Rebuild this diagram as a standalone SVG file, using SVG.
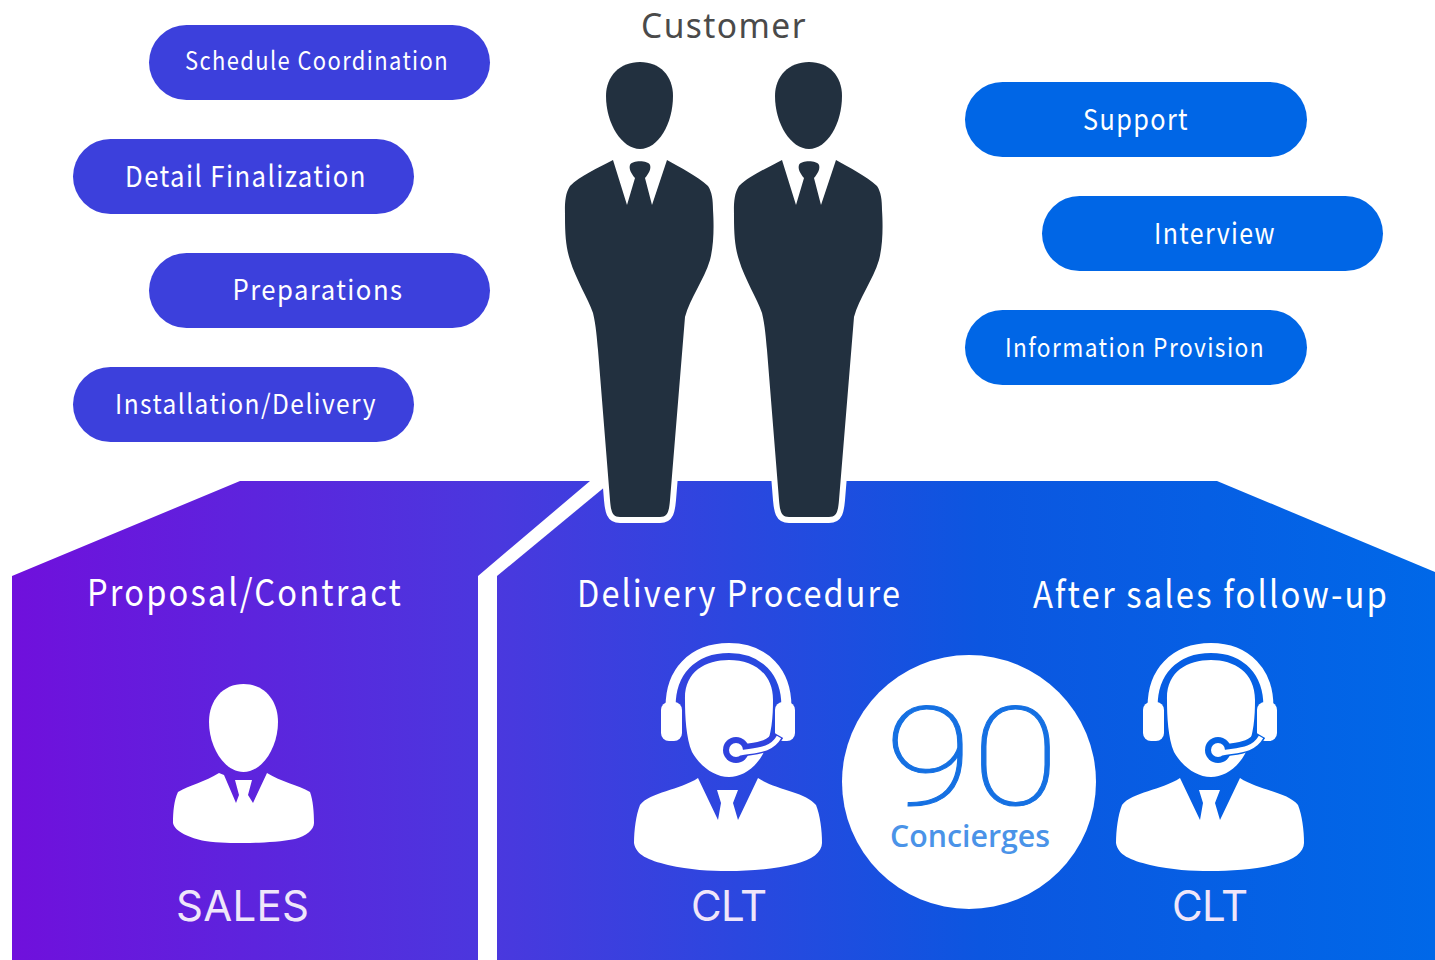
<svg xmlns="http://www.w3.org/2000/svg" xmlns:xlink="http://www.w3.org/1999/xlink" width="1435" height="960" viewBox="0 0 1435 960">
<style>
.lbl{font-family:"Noto Sans CJK JP","Noto Sans",sans-serif;text-anchor:middle;font-weight:400}
.pt{fill:#fff;letter-spacing:1.6px}
.hd{fill:#fff;font-size:37px;letter-spacing:2.4px}
.role{font-family:Inter,"Open Sans",sans-serif;font-size:42px;fill:#efe6fa;text-anchor:middle}
.pa{fill:#3c40dc}
.pb{fill:#0066e6}
.dark{fill:#22303f}
.w{fill:#fff}
</style>
<defs>
<linearGradient id="band" gradientUnits="userSpaceOnUse" x1="12" y1="0" x2="1435" y2="0">
<stop offset="0" stop-color="#7010dc"/><stop offset="0.34" stop-color="#4a38de"/><stop offset="0.68" stop-color="#0c56e0"/><stop offset="1" stop-color="#0068e8"/>
</linearGradient>
<g id="suit">
<path d="M613 160C598 168 580 176 570 186C564 195 565 208 565 217C565 235 566 248 570 260C576 280 588 298 593 313C596 325 597 340 598 350L610 500C611 511 612 517 620 517H660C668 517 669 511 670 500L685 317C690 298 704 280 710 260C714 245 714 225 713 210C713 200 712 192 708 186C697 176 681 168 667 160L652 205L645 178C650 172 651 168 650 165C648 160 632 160 630 165C629 168 630 172 635 178L627 205Z"/>
<path d="M640 62C660 62 673 76 673 96C673 124 658 149 640 149C622 149 606 124 606 96C606 76 620 62 640 62Z"/>
</g>
<g id="agent">
<path class="w" d="M698 778C680 790 650 792 640 805C636 815 634 830 634 843C636 855 648 860 668 865C690 870 710 871 728 871C750 871 775 869 795 864C812 860 822 852 822 843C822 830 820 815 816 805C806 792 776 790 758 778L738 820L733 803L738 790H717L721 803L718 820Z"/>
<path class="w" d="M685 700C684 672 705 660 729 660C752 660 773 672 773 700C773 716 772 735 764 752C756 768 742 777 729 777C714 777 700 766 692 752C686 738 685 716 685 700Z"/>
<path d="M671 715C667 670 695 648 729 648C762 648 790 670 786 715" fill="none" stroke="#fff" stroke-width="10"/>
<rect class="w" x="661" y="702" width="21" height="39" rx="8"/>
<rect class="w" x="775" y="702" width="20" height="39" rx="8"/>
<path d="M778 735C770 749 755 748 740 751" fill="none" stroke="var(--g)" stroke-width="12"/>
<circle cx="736" cy="750" r="13" fill="var(--g)"/>
<path d="M779 737C771 751 756 750 740 753" fill="none" stroke="#fff" stroke-width="5"/>
<circle class="w" cx="736" cy="750" r="7"/>
</g>
</defs>
<rect width="1435" height="960" fill="#fff"/>
<g id="band-sales"><path d="M12 576L240 481H590L478 576V960H12Z" fill="url(#band)"/></g>
<g id="band-delivery"><path d="M497 576L612 481H1217L1435 572V960H497Z" fill="url(#band)"/></g>
<g id="pill-schedule"><rect class="pa" x="149" y="25" width="341" height="75" rx="37.5"/><text class="lbl pt" x="317" y="70" font-size="25" textLength="264" lengthAdjust="spacingAndGlyphs">Schedule Coordination</text></g>
<g id="pill-detail"><rect class="pa" x="73" y="139" width="341" height="75" rx="37.5"/><text class="lbl pt" x="246" y="187" font-size="29" textLength="242" lengthAdjust="spacingAndGlyphs">Detail Finalization</text></g>
<g id="pill-preparations"><rect class="pa" x="149" y="253" width="341" height="75" rx="37.5"/><text class="lbl pt" x="318" y="300" font-size="28" textLength="171" lengthAdjust="spacingAndGlyphs">Preparations</text></g>
<g id="pill-installation"><rect class="pa" x="73" y="367" width="341" height="75" rx="37.5"/><text class="lbl pt" x="246" y="414" font-size="27" textLength="262" lengthAdjust="spacingAndGlyphs">Installation/Delivery</text></g>
<g id="pill-support"><rect class="pb" x="965" y="82" width="342" height="75" rx="37.5"/><text class="lbl pt" x="1136" y="130" font-size="29" textLength="106" lengthAdjust="spacingAndGlyphs">Support</text></g>
<g id="pill-interview"><rect class="pb" x="1042" y="196" width="341" height="75" rx="37.5"/><text class="lbl pt" x="1215" y="244" font-size="29" textLength="122" lengthAdjust="spacingAndGlyphs">Interview</text></g>
<g id="pill-information"><rect class="pb" x="965" y="310" width="342" height="75" rx="37.5"/><text class="lbl pt" x="1135" y="357" font-size="26" textLength="260" lengthAdjust="spacingAndGlyphs">Information Provision</text></g>
<g id="customer">
<text x="724" y="38" font-family="'Noto Sans',sans-serif" text-anchor="middle" font-size="35" textLength="166" lengthAdjust="spacingAndGlyphs" letter-spacing="1.5" fill="#4a4a4a">Customer</text>
<use xlink:href="#suit" href="#suit" class="dark" stroke="#fff" stroke-width="12" paint-order="stroke" stroke-linejoin="round"/>
<use xlink:href="#suit" href="#suit" x="169" class="dark" stroke="#fff" stroke-width="12" paint-order="stroke" stroke-linejoin="round"/>
</g>
<g id="sales">
<text class="lbl hd" x="245" y="606" textLength="316" lengthAdjust="spacingAndGlyphs">Proposal/Contract</text>
<path class="w" d="M243.500 684C264 684 278 700 278 722C278 748 262 772 243.500 772C225 772 209 748 209 722C209 700 223 684 243.500 684Z"/>
<path class="w" d="M219 773C205 782 190 785 178 792C174 800 173 812 173 823C175 832 190 838 205 841C220 843 232 843 244 843C258 843 280 842 295 839C306 836 314 830 314 823C314 812 313 800 310 792C298 785 281 782 267 773L253 803L248 795L252 780H235L239 795L236 803L224 775Z"/>
<text class="role" x="242.500" y="921" textLength="133">SALES</text>
</g>
<g id="clt-delivery" style="--g:#2f42de">
<text class="lbl hd" x="739.500" y="607" textLength="325" lengthAdjust="spacingAndGlyphs">Delivery Procedure</text>
<use xlink:href="#agent" href="#agent"/>
<text class="role" x="729" y="921" textLength="76">CLT</text>
</g>
<g id="clt-aftersales" style="--g:#0562e4">
<text class="lbl hd" x="1211" y="608" textLength="356" lengthAdjust="spacingAndGlyphs">After sales follow-up</text>
<use xlink:href="#agent" href="#agent" x="482"/>
<text class="role" x="1210" y="921" textLength="76">CLT</text>
</g>
<g id="concierges">
<circle class="w" cx="969" cy="782" r="127"/>
<text x="972" y="805" font-family="Roboto,sans-serif" font-weight="100" font-size="138" fill="#1570e2" stroke="#1570e2" stroke-width="1" text-anchor="middle" textLength="174" lengthAdjust="spacingAndGlyphs">90</text>
<text x="970" y="847" font-family="'Open Sans',sans-serif" font-weight="600" font-size="31" fill="#4a93e8" text-anchor="middle" textLength="160" lengthAdjust="spacingAndGlyphs">Concierges</text>
</g>
</svg>
